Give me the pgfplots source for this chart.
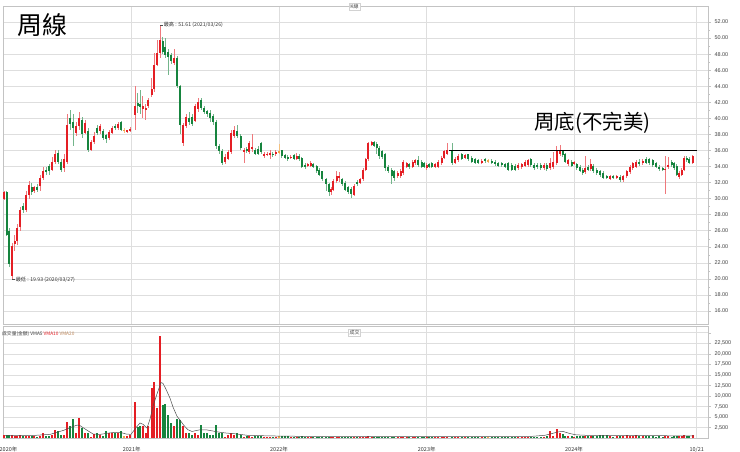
\documentclass[border=0pt]{standalone}
\usepackage{pgfplots}
\pgfplotsset{compat=1.18}
\usepackage{pgfplotstable}
\usepackage{fontspec}
\setmainfont{Liberation Sans}
\newfontfamily\cjk{Noto Sans CJK TC}
\definecolor{cred}{RGB}{228,30,36}
\definecolor{cgreen}{RGB}{22,132,62}
\definecolor{corange}{RGB}{240,165,70}
\definecolor{gridc}{RGB}{222,222,222}
\definecolor{axc}{RGB}{195,195,195}
\definecolor{cbrown}{RGB}{190,135,90}

% weekly candles: x position, open, high, low, close, volume
\pgfplotstableread{
x o h l c v
4 30.0 31.0 29.8 30.8 700
6.5 30.8 31.0 25.3 25.5 800
9 26.0 26.3 21.5 21.8 800
12 20.3 24.5 19.93 24.1 700
14.7 24.3 25.5 23.5 24.7 500
17.3 24.7 26.8 24.2 26.4 600
20 26.5 29.0 26.0 28.6 700
23 29.1 29.5 28.2 28.6 500
26 28.6 31.0 28.3 30.5 600
29 30.5 32.2 30.0 31.7 600
31.5 31.5 32.0 30.5 30.8 500
34 31.0 31.6 30.7 31.4 500
37 31.5 31.8 30.8 31.1 400
40 31.6 33.0 31.0 32.6 600
43 32.6 34.0 32.3 33.4 1200
46 33.6 34.0 33.0 33.4 600
49 34.1 34.3 33.0 33.4 500
52 33.6 35.2 33.4 34.6 700
55 34.6 36.0 34.3 35.5 2000
58 35.7 36.0 34.3 34.6 1600
61 34.6 35.0 33.3 33.6 800
64 33.8 35.5 33.3 35.0 800
67 34.6 40.5 34.3 39.2 3900
70 40.0 41.1 38.5 39.3 2800
73 39.5 40.5 36.5 38.8 4500
76 38.2 39.5 37.8 39.0 1200
79 39.0 40.8 38.5 40.0 4700
82 39.8 40.2 37.5 38.0 2400
85 38.2 39.8 38.0 39.4 1200
88 38.4 38.8 35.8 36.1 1200
91 36.1 37.3 35.9 37.0 300
94 37.1 38.3 36.8 37.8 1000
97 38.8 39.2 37.9 38.2 1300
100 38.4 39.3 38.1 39.0 700
103 38.4 38.7 37.3 37.6 500
106 37.9 38.1 36.9 37.4 1600
109 37.6 38.6 37.3 38.3 1300
112 38.2 39.1 38.0 38.8 1300
115 39.0 39.3 38.6 38.8 1300
118 38.8 39.5 38.6 39.3 1300
121 39.5 39.7 38.4 38.6 1600
124 38.5 38.8 38.2 38.5 500
127 38.4 38.6 38.2 38.5 500
130 38.5 38.9 38.3 38.7 800
135 40.4 44.0 38.6 41.6 8700
137.5 41.9 43.2 40.7 41.5 2600
140 41.8 43.5 40.6 41.4 2900
142.5 41.2 42.8 40.0 41.6 2800
145.5 41.0 41.8 39.8 41.3 1200
148.3 41.5 42.6 41.3 42.3 2800
151.7 42.9 45.0 42.7 43.6 11800
154.3 43.6 48.1 43.3 46.7 13300
157.3 46.7 49.8 46.5 48.1 7100
160 48.1 51.61 47.5 49.8 24300
162.7 49.6 50.2 48.0 48.3 7900
165.3 48.9 50.0 47.5 47.9 8100
168.3 48.3 48.6 45.4 47.6 5500
171 47.9 48.2 46.8 47.1 3700
174 46.9 48.6 46.6 47.5 2800
177 47.5 47.8 43.8 44.0 4500
180 44.0 44.2 38.0 39.2 4300
183 36.9 39.4 36.5 39.2 2900
186 39.0 40.5 38.8 40.2 1200
189 40.0 40.8 39.2 39.6 1200
192 40.2 40.5 39.0 39.3 800
195 39.7 41.8 39.5 41.5 1200
198 41.2 42.5 40.8 42.0 800
201 42.3 42.6 41.0 41.3 3200
204 41.3 41.6 40.5 40.8 1200
207 40.9 41.1 40.2 40.5 1200
210 40.7 41.0 39.6 40.0 800
213 40.3 40.6 39.2 39.5 800
216 39.6 39.8 36.2 36.5 3100
219 36.5 36.8 35.5 35.9 1300
222 35.9 36.2 34.2 34.4 1300
225 34.6 35.5 34.3 35.2 400
228 35.0 36.1 34.8 35.8 800
231 35.8 38.5 35.6 38.2 1200
234 37.8 39.0 37.6 38.6 800
237.3 38.4 39.2 37.6 37.8 1200
240.7 37.8 38.0 36.0 36.3 800
244 35.8 36.3 34.5 36.0 400
246.7 36.2 36.4 35.7 35.9 500
249.3 35.8 37.2 35.6 36.9 600
252 36.3 38.0 35.8 36.4 400
255 36.0 36.3 35.4 35.6 500
258.3 36.2 36.5 35.4 35.6 500
261 36.9 37.0 35.5 35.8 600
264.3 35.3 35.8 35.1 35.6 400
267 35.5 35.8 35.3 35.6 300
270 35.5 36.1 35.0 35.7 400
272.7 35.6 35.8 35.2 35.4 400
275.7 35.5 36.0 35.3 35.8 300
279 35.8 36.8 35.5 35.8 500
281.7 36.0 36.1 35.1 35.3 600
285 35.4 35.6 34.9 35.1 500
287.7 35.2 35.4 34.7 34.9 500
290.7 35.1 35.4 34.9 35.2 400
294 35.4 35.6 34.8 35.0 300
296.7 35.0 35.7 34.8 35.3 400
299.3 35.3 35.5 34.7 34.9 300
301.7 35.1 35.2 33.8 34.0 500
305 34.2 34.4 33.7 34.0 300
307.7 34.1 34.5 33.9 34.3 300
310.7 34.1 34.7 33.9 34.5 300
313.3 34.3 34.5 33.8 34.0 300
316.7 34.1 34.2 33.2 33.4 300
319.3 33.6 33.8 32.8 33.0 300
322.3 33.4 33.5 32.2 32.4 300
326 32.4 32.6 31.0 31.8 400
329 31.8 32.0 30.3 30.8 400
331 30.8 31.4 30.5 31.2 300
333.3 31.1 32.4 30.9 32.2 300
336.7 32.2 33.4 32.0 32.8 300
339.3 32.7 33.3 32.1 32.8 300
342.3 32.4 32.6 31.6 31.8 300
345 32.0 32.2 30.9 31.1 300
348.3 31.4 31.6 30.6 30.8 300
351 31.2 31.4 30.1 30.6 400
354.3 30.5 31.8 30.3 31.6 400
357.3 32.1 32.3 31.6 31.8 300
360 32.0 32.6 31.8 32.4 300
363.3 32.4 33.8 32.2 33.6 400
365.7 33.6 35.1 33.4 34.9 400
368.3 34.9 37.1 34.7 36.9 500
371.7 36.7 37.2 36.5 37.1 400
374.3 37.1 37.2 36.4 36.6 300
376.7 36.8 37.0 35.5 36.3 300
379.3 36.3 36.5 35.0 35.3 300
382 35.9 36.1 35.0 35.2 300
385 35.5 35.7 33.5 33.8 300
388.3 34.0 34.2 33.2 33.4 300
391.7 33.6 33.8 31.8 32.8 300
394.3 33.4 33.6 32.2 32.6 300
397.7 32.8 33.5 32.6 33.2 300
400.7 32.8 33.7 32.6 33.4 300
403.3 33.2 34.8 33.0 34.6 300
406.7 34.0 34.6 33.8 34.4 300
409.3 34.3 34.5 33.7 33.9 300
412.7 34.0 34.8 33.8 34.6 300
415.3 34.4 35.0 34.2 34.8 300
418.3 34.8 35.3 34.0 34.2 300
421.7 34.6 34.8 33.8 34.0 300
424.3 34.4 34.6 33.8 34.0 300
426.7 33.8 34.4 33.6 34.2 300
429.3 34.3 34.5 33.8 34.0 300
431.7 34.4 34.6 33.8 34.0 300
435 34.0 34.5 33.8 34.3 300
438.3 34.0 34.8 33.8 34.6 400
441.7 34.4 35.3 34.2 35.1 400
444.3 35.1 36.1 34.9 35.9 400
447.3 35.6 36.9 35.4 36.1 400
452 36.0 36.9 34.2 34.4 400
455 34.5 35.2 34.3 34.9 400
458.3 34.8 35.5 34.6 35.3 400
461.7 35.5 35.7 34.8 35.0 300
465 35.1 35.6 34.9 35.4 300
468.3 35.5 35.6 34.7 34.9 300
471.7 35.1 35.3 34.4 34.6 300
475 34.9 35.1 34.3 34.5 200
478.3 34.8 35.0 34.3 34.5 200
481.7 34.5 34.9 34.3 34.7 200
485 34.9 35.1 34.5 34.7 200
488.3 34.7 34.9 34.5 34.7 200
491.7 34.7 34.9 34.3 34.5 300
495 34.6 34.8 34.1 34.3 300
498.3 34.4 34.6 33.9 34.1 300
501.7 34.4 34.6 34.0 34.2 300
505 34.3 34.5 33.8 34.0 300
508.3 34.4 34.6 33.4 33.6 300
511.7 34.2 34.4 33.4 33.6 300
515 34.1 34.3 33.4 33.6 300
518.3 33.8 34.4 33.6 34.2 300
521.7 33.9 34.5 33.7 34.3 300
525 34.1 34.8 33.9 34.6 300
528.3 34.2 35.0 34.0 34.8 300
530.7 34.9 35.1 34.0 34.2 300
534 34.2 34.4 33.6 33.8 200
537.3 34.2 34.4 33.7 33.9 200
540.7 34.2 34.4 33.6 33.8 300
544 33.8 34.4 33.6 34.2 300
546.7 34.2 34.4 33.5 33.7 500
550 33.8 35.1 33.6 34.4 1600
553.3 33.9 35.8 33.7 34.6 500
556.7 34.4 36.6 34.2 35.9 2100
560 35.5 36.7 35.3 36.1 1200
562.7 35.9 36.1 35.2 35.4 1000
565 35.5 35.7 34.4 34.6 600
568.3 34.3 35.0 34.1 34.8 500
571.7 34.6 34.8 33.9 34.1 500
574.3 34.4 34.7 34.2 34.5 400
576.7 34.3 34.5 33.6 33.8 500
580 34.0 34.2 33.3 33.5 500
582.7 33.6 33.8 33.0 33.2 500
585 33.3 35.3 33.1 33.8 500
588.3 34.0 34.2 33.4 33.6 500
590.7 33.7 35.0 33.5 34.3 500
593.3 34.1 34.3 33.2 33.4 500
596.7 33.6 33.8 33.0 33.2 600
600 33.4 33.6 32.7 32.9 700
603.3 33.2 33.4 32.4 32.6 800
606.7 32.8 33.0 32.4 32.6 800
610 32.5 33.0 32.3 32.8 500
613.3 32.8 33.0 32.4 32.6 400
616.7 32.6 33.0 32.4 32.8 500
620 32.7 32.9 32.1 32.3 500
623.3 32.3 33.0 32.1 32.8 600
626.7 32.8 33.6 32.6 33.4 700
630 33.3 34.2 33.1 34.0 600
632.7 33.8 34.6 33.6 34.4 600
636 34.0 34.8 33.8 34.6 700
639.3 34.6 34.9 34.1 34.3 500
642.7 34.4 34.9 34.2 34.7 500
646 34.9 35.2 34.3 34.5 500
649.3 34.9 35.1 34.2 34.4 500
652.7 34.8 35.0 34.0 34.2 500
656 34.4 34.6 33.8 34.0 400
659.3 34.0 34.2 33.5 33.7 500
662.7 33.8 34.0 33.4 33.6 400
665 33.6 35.3 30.6 33.7 600
668.3 33.9 35.2 33.7 34.2 500
671.7 34.6 34.8 34.0 34.2 400
674.3 34.4 34.6 33.6 33.8 500
676.7 34.1 34.3 32.8 33.0 600
679.3 32.7 33.4 32.5 33.2 500
681.7 33.0 33.8 32.8 33.6 600
684 33.6 35.3 33.4 35.1 700
686.7 35.1 35.3 34.6 34.8 500
689.3 35.0 35.2 34.3 34.5 500
692.7 34.5 35.4 34.3 35.3 800
}\kdata

% volume moving average line
\pgfplotstableread{
x m
5 600
30 600
43 800
50 900
57 1400
64 1900
70 2500
77 3100
80 3000
85 2200
93 1000
100 900
108 1200
115 1400
120 1400
126 1000
131 900
136 2500
140 3600
143 3300
147 2400
150 4500
153 7600
157 10500
161 13200
163 13000
166 11600
170 9500
173 7400
177 5200
180 4300
184 3000
188 2000
192 1600
196 1800
200 2000
206 2000
213 1700
220 1400
227 1200
233 1100
240 900
247 700
260 600
280 500
300 450
350 350
400 350
450 400
500 350
530 400
545 700
552 1100
558 1500
563 1600
570 1100
576 800
585 700
600 700
620 700
640 650
660 600
680 550
694 550
}\vma

\pgfplotsset{
  upf/.style={/pgfplots/x filter/.expression={\thisrow{c}>\thisrow{o} ? x : nan}},
  dnf/.style={/pgfplots/x filter/.expression={\thisrow{c}<\thisrow{o} ? x : nan}},
  eqf/.style={/pgfplots/x filter/.expression={\thisrow{c}==\thisrow{o} ? x : nan}},
  wick/.style={draw=none, mark=none, forget plot,
    /pgfplots/error bars/y dir=both, /pgfplots/error bars/y explicit,
    /pgfplots/error bars/error mark=none,
    /pgfplots/error bars/error bar style={draw=#1, line width=0.6bp}},
  body/.style={draw=none, mark=none, forget plot,
    /pgfplots/error bars/y dir=both, /pgfplots/error bars/y explicit,
    /pgfplots/error bars/error mark=none,
    /pgfplots/error bars/error bar style={draw=#1, line width=2bp}},
  vbar/.style={ycomb, mark=none, draw=#1, line width=2bp, forget plot},
}

\begin{document}
\begin{tikzpicture}
\path[use as bounding box] (0,0) rectangle (740bp,-452bp);

% ---------- price panel ----------
\begin{axis}[
  at={(3bp,-6bp)}, anchor=north west,
  scale only axis, width=705bp, height=318bp,
  xmin=3, xmax=708, ymin=14.38, ymax=54,
  axis line style={draw=axc, line width=0.6bp},
  xtick={131.7,279,426.7,574,696.7}, xticklabels={},
  xtick style={draw=none},
  ytick={16,18,...,52}, minor y tick num=1,
  xmajorgrids, ymajorgrids,
  grid style={draw=gridc, line width=0.6bp},
  ytick pos=right, yticklabel pos=right,
  tick align=outside, major tick length=3bp, minor tick length=1.5bp,
  ytick style={draw=axc, line width=0.5bp},
  yticklabel style={font=\fontsize{5.5}{6}\selectfont, text=black!75,
    /pgf/number format/fixed, /pgf/number format/fixed zerofill,
    /pgf/number format/precision=2, /pgf/number format/assume math mode=true},
]
\addplot[upf, wick=cred!60] table[x=x, y expr={(\thisrow{h}+\thisrow{l})/2}, y error expr={(\thisrow{h}-\thisrow{l})/2}] {\kdata};
\addplot[dnf, wick=cgreen!60] table[x=x, y expr={(\thisrow{h}+\thisrow{l})/2}, y error expr={(\thisrow{h}-\thisrow{l})/2}] {\kdata};
\addplot[eqf, wick=corange!70] table[x=x, y expr={(\thisrow{h}+\thisrow{l})/2}, y error expr={(\thisrow{h}-\thisrow{l})/2}] {\kdata};
\addplot[upf, body=cred] table[x=x, y expr={(\thisrow{o}+\thisrow{c})/2}, y error expr={max(abs(\thisrow{c}-\thisrow{o})/2,0.07)}] {\kdata};
\addplot[dnf, body=cgreen] table[x=x, y expr={(\thisrow{o}+\thisrow{c})/2}, y error expr={max(abs(\thisrow{c}-\thisrow{o})/2,0.07)}] {\kdata};
\addplot[eqf, body=corange] table[x=x, y expr={(\thisrow{o}+\thisrow{c})/2}, y error expr={0.08}] {\kdata};
\addplot[black, line width=1.2bp, mark=none] coordinates {(449,36) (696.7,36)};
\coordinate (hi) at (axis cs:160,51.61);
\coordinate (lo) at (axis cs:12,19.93);
\end{axis}
\draw[black!70, line width=0.4bp] (hi) -- ++(3bp,0pt)
  node[right, inner sep=0.6bp, font=\cjk\fontsize{5.2}{6}\selectfont, text=black!80] {最高 : 51.61 (2021/03/26)};
\draw[black!70, line width=0.4bp] (lo) -- ++(3bp,0pt)
  node[right, inner sep=0.6bp, font=\cjk\fontsize{5.2}{6}\selectfont, text=black!80] {最低 : 19.93 (2020/03/27)};

% ---------- volume panel ----------
\begin{axis}[
  at={(3bp,-326bp)}, anchor=north west,
  scale only axis, width=705bp, height=112.2bp,
  xmin=3, xmax=708, ymin=0, ymax=26600,
  axis line style={draw=axc, line width=0.6bp},
  xtick={131.7,279,426.7,574,696.7},
  xticklabels={2021年,2022年,2023年,2024年,10/21},
  extra x ticks={8.5}, extra x tick labels={2020年},
  extra x tick style={grid=none},
  xtick style={draw=none},
  xticklabel style={font=\cjk\fontsize{5.5}{6}\selectfont, text=black!80, yshift=-2.5bp},
  ytick={2500,5000,...,22500},
  extra y ticks={25000}, extra y tick labels={},
  extra y tick style={grid=major},
  scaled y ticks=false,
  xmajorgrids, ymajorgrids,
  grid style={draw=gridc, line width=0.6bp},
  ytick pos=right, yticklabel pos=right,
  tick align=outside, major tick length=3bp,
  ytick style={draw=axc, line width=0.5bp},
  yticklabel style={font=\fontsize{5.5}{6}\selectfont, text=black!75,
    /pgf/number format/fixed, /pgf/number format/precision=0,
    /pgf/number format/1000 sep={,}, /pgf/number format/assume math mode=true},
]
\addplot[upf, vbar=cred] table[x=x, y=v] {\kdata};
\addplot[dnf, vbar=cgreen] table[x=x, y=v] {\kdata};
\addplot[eqf, vbar=corange] table[x=x, y=v] {\kdata};
\addplot[black!70, line width=0.5bp, mark=none] table[x=x, y=m] {\vma};
\end{axis}

% ---------- texts ----------
\node[anchor=west, inner sep=0, font=\cjk\fontsize{25}{26}\selectfont] at (17bp,-25bp) {周線};
\node[inner sep=0, font=\cjk\fontsize{20.5}{22}\selectfont] at (592.5bp,-122.5bp) {周底(不完美)};
\node[draw=gray!35, fill=white, inner sep=1.2bp, font=\cjk\fontsize{5}{5}\selectfont, text=black!75] at (354.5bp,-6.5bp) {K線};
\node[draw=gray!35, fill=white, inner sep=1.2bp, font=\cjk\fontsize{5}{5}\selectfont, text=black!75] at (354.5bp,-332.5bp) {成交};
\node[anchor=west, inner sep=0, font=\cjk\fontsize{4.8}{5}\selectfont, text=black!75] at (2bp,-333.5bp)
  {成交量(金額) VMA5 \textcolor{cred}{VMA10} \textcolor{cbrown}{VMA20}};
\end{tikzpicture}
\end{document}
